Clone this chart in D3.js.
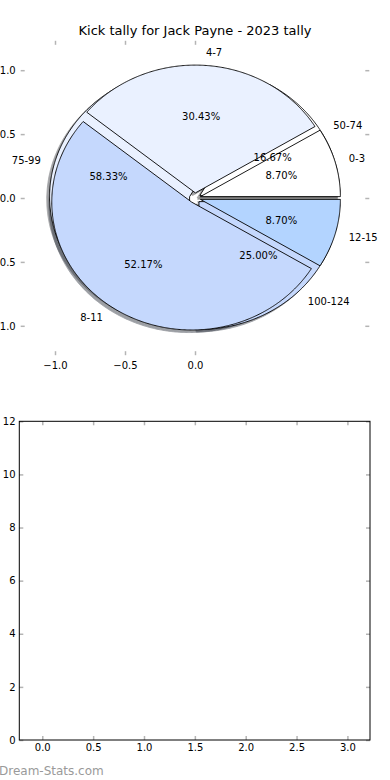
<!DOCTYPE html>
<html>
<head>
<meta charset="utf-8">
<script src="https://cdn.jsdelivr.net/npm/d3@7/dist/d3.min.js"></script>
<style>
  html, body { margin: 0; padding: 0; background: #fff; }
  svg { display: block; }
  text { font-family: "DejaVu Sans", sans-serif; fill: #000; }
</style>
</head>
<body>
<div id="chart"></div>
<script>
// ---- data ----
const kickCats = ["0-3", "4-7", "8-11", "12-15"];
const kickValues = [2, 7, 12, 2];
const distCats = ["50-74", "75-99", "100-124"];
const distValues = [2, 7, 3];
const wedgeColors = ["#ffffff", "#eaf1ff", "#c5d8fd", "#b3d4ff"];
const titleText = "Kick tally for Jack Payne - 2023 tally";
const pieXTicks = [-1.0, -0.5, 0.0];
const pieYTicks = [1.0, 0.5, 0.0, -0.5, -1.0];
const barXTicks = [0.0, 0.5, 1.0, 1.5, 2.0, 2.5, 3.0];
const barYTicks = [0, 2, 4, 6, 8, 10, 12];
const watermark = "Dream-Stats.com";

const W = 390, H = 780;
const svg = d3.select("#chart").append("svg").attr("width", W).attr("height", H);

// ---- pie axes ----
const px = d3.scaleLinear().domain([-1.245, 1.245]).range([20.7, 369.3]);
const py = d3.scaleLinear().domain([-1.23, 1.23]).range([355.2, 40.8]);
const explode = 0.04;
const tickColor = "#b4b4b4";

svg.append("text").attr("x", 195).attr("y", 34.5).attr("text-anchor", "middle")
  .attr("font-size", 13).text(titleText);

// tick marks / labels for pie axes
const gPieAx = svg.append("g");
const fmt1 = d3.format(".1f");
gPieAx.append("g").attr("transform", `translate(0,${py.range()[0]})`)
  .call(d3.axisBottom(px).tickValues(pieXTicks).tickFormat(fmt1).tickSize(-4).tickPadding(6.3));
gPieAx.append("g").attr("transform", `translate(0,${py.range()[1]})`)
  .call(d3.axisTop(px).tickValues(pieXTicks).tickFormat("").tickSize(-4));
gPieAx.append("g").attr("transform", `translate(${px.range()[0]},0)`)
  .call(d3.axisLeft(py).tickValues(pieYTicks).tickFormat(fmt1).tickSize(-4).tickPadding(5));
gPieAx.append("g").attr("transform", `translate(${px.range()[1]},0)`)
  .call(d3.axisRight(py).tickValues(pieYTicks).tickFormat("").tickSize(-4));
gPieAx.selectAll(".domain").remove();

const pieGen = d3.pie().sort(null).startAngle(0).endAngle(2 * Math.PI);
const arcsA = pieGen(kickValues).map((d, i) => ({...d, cat: kickCats[i], color: wedgeColors[i % wedgeColors.length], total: d3.sum(kickValues)}));
const arcsB = pieGen(distValues).map((d, i) => ({...d, cat: distCats[i], color: wedgeColors[i % wedgeColors.length], total: d3.sum(distValues)}));

const line = d3.line().x(d => px(d[0])).y(d => py(d[1]));
function wedgePts(d) {
  const s = d.startAngle, e = d.endAngle, m = (s + e) / 2;
  const cx = explode * Math.cos(m), cy = explode * Math.sin(m);
  const pts = [[cx, cy]];
  const n = Math.max(2, Math.ceil((e - s) / (Math.PI / 360)));
  for (let i = 0; i <= n; i++) {
    const t = s + (e - s) * i / n;
    pts.push([cx + Math.cos(t), cy + Math.sin(t)]);
  }
  return pts;
}
function shade(c) {
  const r = d3.rgb(c);
  return d3.rgb(r.r * 0.3, r.g * 0.3, r.b * 0.3).toString();
}
const sdx = px(-0.02) - px(0), sdy = py(-0.02) - py(0);

const gPie = svg.append("g");
// shadows
[arcsB, arcsA].forEach(arcs => {
  gPie.selectAll(null).data(arcs).enter().append("path")
    .attr("d", d => line(wedgePts(d)) + "Z")
    .attr("transform", `translate(${sdx},${sdy})`)
    .attr("fill", d => shade(d.color)).attr("stroke", d => shade(d.color))
    .attr("stroke-width", 0.9).attr("opacity", 0.5);
});
// wedges
[arcsB, arcsA].forEach(arcs => {
  gPie.selectAll(null).data(arcs).enter().append("path")
    .attr("d", d => line(wedgePts(d)) + "Z")
    .attr("fill", d => d.color).attr("stroke", "#000").attr("stroke-width", 0.9)
    .attr("stroke-linejoin", "miter");
});
// texts
const fmtPct = d3.format(".2f");
[arcsB, arcsA].forEach(arcs => {
  arcs.forEach(d => {
    const m = (d.startAngle + d.endAngle) / 2;
    const cx = explode * Math.cos(m), cy = explode * Math.sin(m);
    const lx = cx + 1.1 * Math.cos(m), ly = cy + 1.1 * Math.sin(m);
    svg.append("text").attr("x", px(lx)).attr("y", py(ly))
      .attr("text-anchor", lx > 0 ? "start" : "end").attr("dominant-baseline", "central")
      .attr("font-size", 10).text(d.cat);
    const tx = cx + 0.6 * Math.cos(m), ty = cy + 0.6 * Math.sin(m);
    svg.append("text").attr("x", px(tx)).attr("y", py(ty))
      .attr("text-anchor", "middle").attr("dominant-baseline", "central")
      .attr("font-size", 10).text(fmtPct(d.value / d.total * 100) + "%");
  });
});

// ---- empty bottom axes ----
const bx = d3.scaleLinear().domain([-0.226, 3.222]).range([19.3, 370]);
const by = d3.scaleLinear().domain([0, 12]).range([740, 421.3]);
const gB = svg.append("g");
gB.append("g").attr("transform", `translate(0,${by.range()[0]})`)
  .call(d3.axisBottom(bx).tickValues(barXTicks).tickFormat(fmt1).tickSize(-4).tickPadding(3.5));
gB.append("g").attr("transform", `translate(0,${by.range()[1]})`)
  .call(d3.axisTop(bx).tickValues(barXTicks).tickFormat("").tickSize(-4));
gB.append("g").attr("transform", `translate(${bx.range()[0]},0)`)
  .call(d3.axisLeft(by).tickValues(barYTicks).tickFormat(d3.format("d")).tickSize(-4).tickPadding(3.8));
gB.append("g").attr("transform", `translate(${bx.range()[1]},0)`)
  .call(d3.axisRight(by).tickValues(barYTicks).tickFormat("").tickSize(-4));
gB.selectAll(".domain").remove();
gB.append("rect").attr("x", bx.range()[0]).attr("y", by.range()[1])
  .attr("width", bx.range()[1] - bx.range()[0]).attr("height", by.range()[0] - by.range()[1])
  .attr("fill", "none").attr("stroke", "#000").attr("stroke-width", 1);

// axis styling
svg.selectAll(".tick line").attr("stroke", tickColor).attr("stroke-width", 1.5);
svg.selectAll(".tick text").attr("font-size", 10).attr("font-family", "DejaVu Sans, sans-serif").attr("fill", "#000");

svg.append("text").attr("x", -1).attr("y", 775).attr("font-size", 12)
  .style("fill", "#9a9a9a").text(watermark);
</script>
</body>
</html>
